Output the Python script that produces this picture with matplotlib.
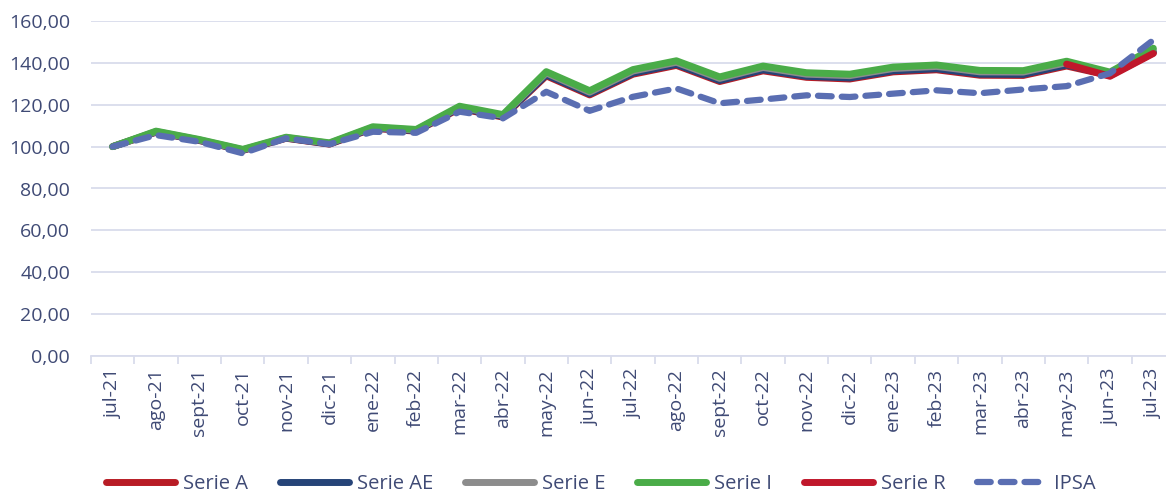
import numpy as np
import matplotlib
matplotlib.use("Agg")
import matplotlib.pyplot as plt
from matplotlib.ticker import FuncFormatter

months = ['jul-21','ago-21','sept-21','oct-21','nov-21','dic-21','ene-22','feb-22',
          'mar-22','abr-22','may-22','jun-22','jul-22','ago-22','sept-22','oct-22',
          'nov-22','dic-22','ene-23','feb-23','mar-23','abr-23','may-23','jun-23','jul-23']

serie_i  = [100.0, 107.4, 103.4, 98.7, 104.5, 101.8, 109.5, 108.2, 119.3, 115.3, 135.8, 126.7,
            136.8, 141.0, 133.3, 138.5, 135.3, 134.6, 138.0, 139.0, 136.4, 136.3, 140.8, 135.6, 147.0]
serie_e  = [100.0, 107.2, 103.2, 98.5, 104.3, 101.6, 109.2, 107.9, 118.9, 114.9, 135.2, 126.0,
            136.1, 140.3, 132.6, 137.8, 134.6, 133.9, 137.3, 138.3, 135.7, 135.6, 140.1, 135.0, 146.2]
serie_ae = [100.0, 107.0, 103.0, 98.3, 104.1, 101.3, 108.9, 107.6, 118.5, 114.4, 134.3, 125.2,
            135.1, 139.3, 131.6, 136.7, 133.6, 132.8, 136.2, 137.2, 134.6, 134.5, 139.0, 134.2, 145.3]
serie_a  = [100.0, 106.9, 102.9, 98.2, 104.0, 101.2, 108.7, 107.4, 118.2, 114.1, 133.8, 124.7,
            134.6, 138.8, 131.1, 136.2, 133.1, 132.3, 135.7, 136.7, 134.1, 134.0, 138.5, 133.9, 144.8]
serie_r  = [np.nan]*22 + [139.4, 133.6, 144.5]
ipsa     = [100.0, 105.5, 102.3, 96.8, 104.0, 101.2, 107.1, 106.6, 116.7, 113.5, 126.2, 117.1,
            123.8, 127.8, 120.7, 122.5, 124.5, 123.7, 125.3, 126.9, 125.5, 127.3, 128.9, 135.0, 150.9]

yticks = [0, 20, 40, 60, 80, 100, 120, 140, 160]

text_color = '#3f4a75'
grid_color = '#d9dcec'
font = ['Open Sans', 'DejaVu Sans']
plt.rcParams['font.family'] = font

fig = plt.figure(figsize=(11.66, 4.94), dpi=100)
W, H = 1166, 494
left, right, top, bottom = 91, 1175, 21, 356
ax = fig.add_axes([left / W, 1 - bottom / H, (right - left) / W, (bottom - top) / H])

x = np.arange(len(months))
lw = 5
ax.plot(x, serie_a, color='#b81c25', lw=lw, solid_capstyle='round', label='Serie A', zorder=3)
ax.plot(x, serie_ae, color='#264478', lw=lw, solid_capstyle='round', label='Serie AE', zorder=4)
ax.plot(x, serie_e, color='#8c8c8c', lw=lw, solid_capstyle='round', label='Serie E', zorder=5)
ax.plot(x, serie_i, color='#4aac48', lw=lw, solid_capstyle='round', label='Serie I', zorder=6)
ax.plot(x, serie_r, color='#c0172b', lw=lw, solid_capstyle='round', label='Serie R', zorder=7)
ax.plot(x, ipsa, color='#5a6eb2', lw=4.5, ls=(0, (2.2, 1.6)), dash_capstyle='round',
        label='IPSA', zorder=8)

ax.set_xlim(-0.5, len(months) - 0.5)
ax.set_ylim(0, 160)
ax.set_yticks(yticks)
ax.yaxis.set_major_formatter(FuncFormatter(lambda v, p: f"{v:.2f}".replace('.', ',')))
ax.set_xticks(x)
ax.set_xticklabels(months, rotation=90)
ax.set_xticks(np.arange(-0.5, len(months), 1), minor=True)

ax.grid(axis='y', color=grid_color, lw=1.3)
ax.set_axisbelow(True)
for s in ['top', 'right', 'left']:
    ax.spines[s].set_visible(False)
ax.spines['bottom'].set_color(grid_color)
ax.spines['bottom'].set_linewidth(1.3)
ax.tick_params(axis='y', length=0, pad=15, labelsize=14, labelcolor=text_color)
ax.tick_params(axis='x', which='major', length=0, pad=9, labelsize=14, labelcolor=text_color)
ax.tick_params(axis='x', which='minor', length=6, color=grid_color, width=1.3)

handles, labels = ax.get_legend_handles_labels()
leg = fig.legend(handles, labels, loc='center', bbox_to_anchor=(601 / W, 1 - 484 / H), ncol=6,
                 frameon=False, fontsize=14.5, handlelength=3.4, columnspacing=1.6,
                 handletextpad=0.4, labelcolor=text_color)

fig.savefig('out.png', dpi=100)
